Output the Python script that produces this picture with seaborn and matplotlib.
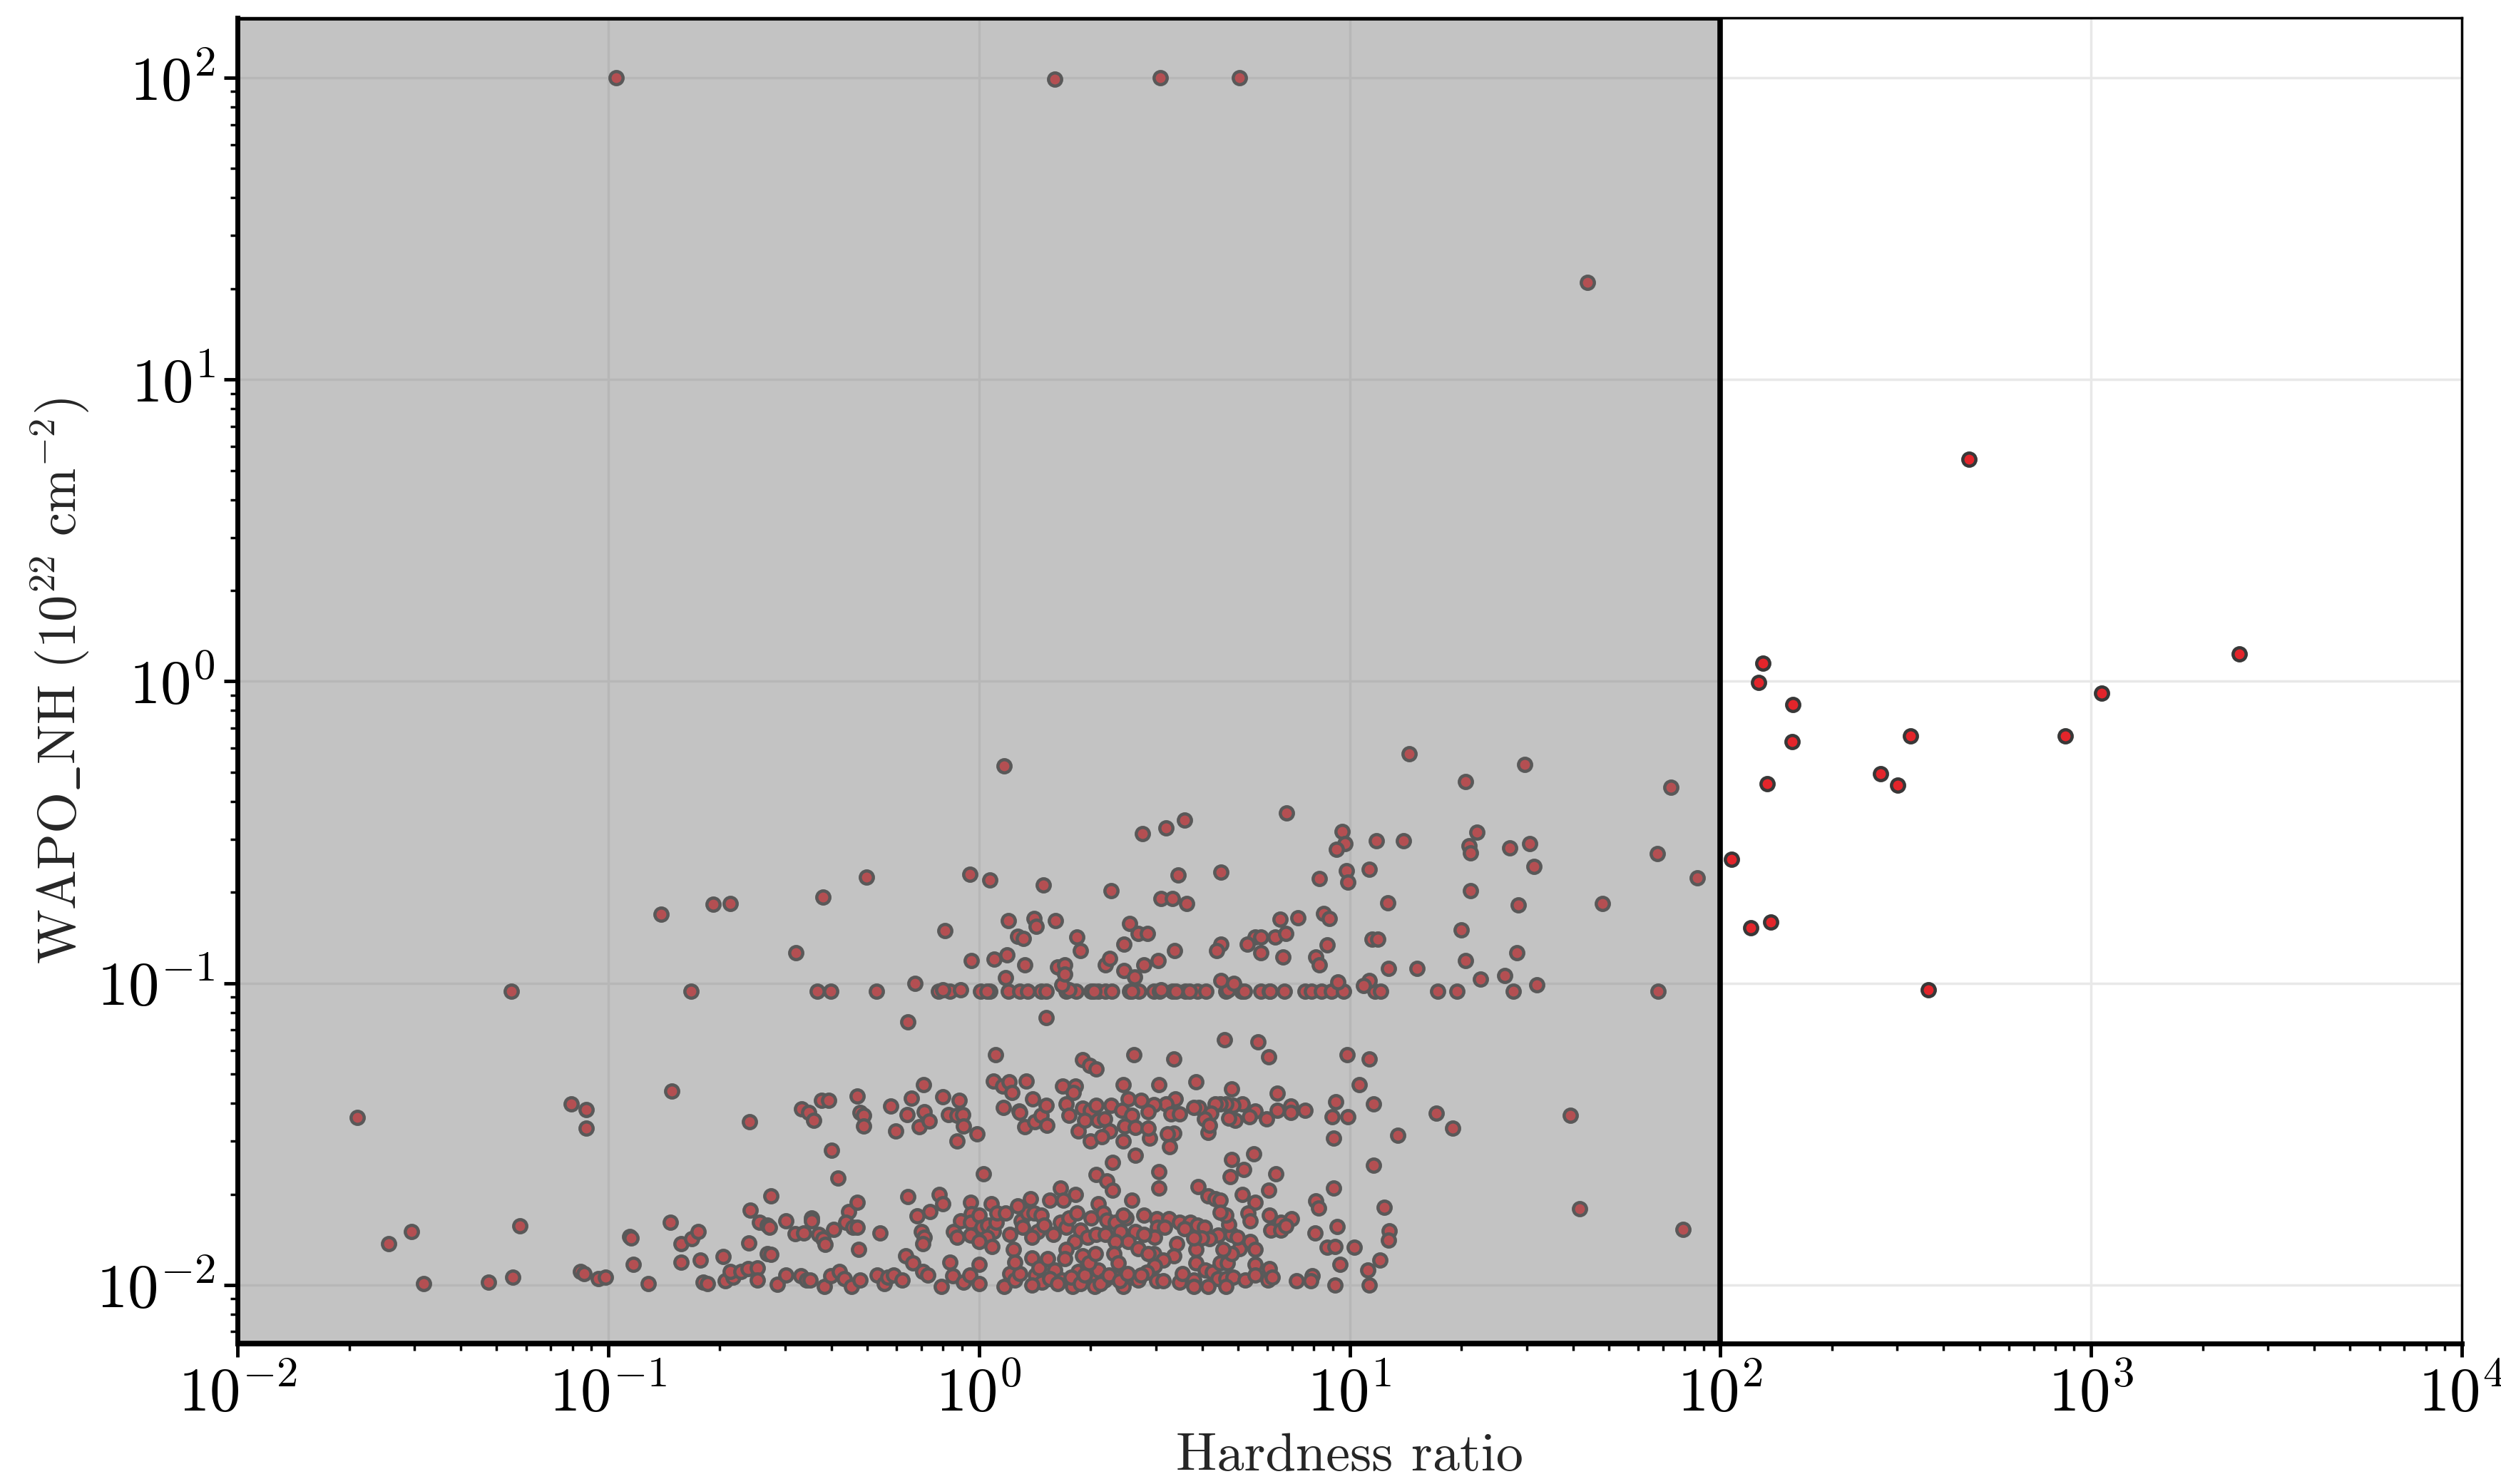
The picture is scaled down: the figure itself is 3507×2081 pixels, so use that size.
import numpy as np
import pandas as pd
import matplotlib
matplotlib.use("Agg")
import matplotlib.pyplot as plt
from matplotlib.ticker import LogLocator, NullFormatter
import seaborn as sns

# ---------------- data ----------------
# isolated outliers at the top
hr_top = [0.105, 1.6, 3.08, 5.05, 43.8]
nh_top = [100, 99, 100, 100, 21]

# sources with hardness ratio > 100 (unshaded area)
hr_hard = [469, 2512, 130, 127, 157, 156, 134, 326, 271, 301, 853, 1069, 107, 121, 137, 364]
nh_hard = [5.43, 1.23, 1.15, 0.99, 0.84, 0.63, 0.457, 0.66, 0.493, 0.452, 0.66, 0.914,
           0.257, 0.153, 0.159, 0.095]

# horizontal band near 0.094
hr_band1 = [0.0548, 0.167, 0.366, 0.399, 0.53, 0.776, 0.833, 0.891, 1.01, 1.07, 1.2, 1.29,
            1.35, 1.47, 1.52, 1.72, 1.83, 2.01, 2.10, 2.19, 2.28, 2.55, 2.70, 2.97, 3.07,
            3.32, 3.60, 3.89, 4.09, 4.63, 5.1, 5.75, 6.07, 6.66, 7.57, 7.88, 8.38, 8.92,
            9.62, 11.7, 12.1, 17.3, 19.5, 27.6, 67.9, 0.80, 1.05, 1.75, 2.04, 2.58, 3.1,
            3.4, 3.7, 4.7, 5.2, 6.1,
            0.673, 1.67, 4.49, 4.87, 9.3, 11.3, 10.9, 32.0, 1.18]
nh_band1 = [0.094, 0.094, 0.094, 0.094, 0.094, 0.094, 0.094, 0.095, 0.094, 0.094, 0.094, 0.094,
            0.094, 0.094, 0.094, 0.094, 0.094, 0.094, 0.094, 0.094, 0.094, 0.094, 0.094, 0.094, 0.094,
            0.094, 0.094, 0.094, 0.094, 0.094, 0.094, 0.094, 0.094, 0.094, 0.094, 0.094, 0.094, 0.094,
            0.094, 0.094, 0.094, 0.094, 0.094, 0.094, 0.094, 0.095, 0.094, 0.095, 0.094, 0.094, 0.095,
            0.094, 0.094, 0.095, 0.094, 0.094,
            0.100, 0.099, 0.102, 0.100, 0.101, 0.102, 0.098, 0.099, 0.104]

# scatter between 0.1 and 0.6
hr_upper = [0.139, 0.192, 0.213, 1.17, 2.76, 3.2, 3.58, 0.497, 0.943, 1.07, 1.49, 2.27, 3.45,
            3.10, 3.32, 3.63, 0.38, 0.321, 0.811, 1.20, 1.41, 1.43, 1.61, 1.27, 1.32, 1.84,
            1.88, 2.55, 2.69, 2.85, 2.46, 3.37, 0.955, 1.10, 1.19, 1.33, 1.63, 1.7, 1.7, 2.19,
            2.25, 2.46, 2.63, 2.78, 3.05,
            14.5, 29.6, 20.5, 73.5, 6.75, 9.53, 9.7, 9.2, 11.8, 13.96, 22.0, 21.0, 21.2, 27.0,
            30.6, 67.6, 86.7, 31.4, 4.49, 8.28, 9.8, 9.9, 11.3, 21.2, 12.65, 28.5, 48.1, 6.49,
            7.24, 8.5, 8.8, 5.57, 5.75, 6.29, 6.73, 5.3, 4.5, 4.37, 5.77, 6.6, 8.1, 8.3, 8.7,
            11.5, 11.9, 20.0, 28.3, 20.5, 12.7, 15.2, 22.5, 26.2]
nh_upper = [0.169, 0.183, 0.184, 0.524, 0.313, 0.327, 0.347, 0.225, 0.23, 0.22, 0.212, 0.202, 0.228,
            0.191, 0.191, 0.184, 0.193, 0.126, 0.149, 0.161, 0.164, 0.154, 0.161, 0.1426, 0.141, 0.142,
            0.128, 0.158, 0.146, 0.146, 0.135, 0.128, 0.119, 0.12, 0.124, 0.115, 0.113, 0.115, 0.107, 0.115,
            0.121, 0.110, 0.105, 0.115, 0.119,
            0.575, 0.53, 0.465, 0.445, 0.366, 0.318, 0.29, 0.277, 0.296, 0.297, 0.317, 0.286, 0.27, 0.28,
            0.29, 0.268, 0.223, 0.243, 0.233, 0.222, 0.236, 0.216, 0.238, 0.202, 0.185, 0.182, 0.184, 0.163,
            0.165, 0.17, 0.164, 0.1425, 0.1425, 0.1425, 0.146, 0.135, 0.135, 0.128, 0.126, 0.122, 0.122, 0.115, 0.134,
            0.14, 0.14, 0.15, 0.126, 0.119, 0.112, 0.112, 0.103, 0.106]

# sparse points between 0.05 and 0.08
hr_mid = [0.644, 1.52, 1.11, 1.90, 1.99, 2.07, 2.62, 3.36, 4.59, 5.65, 6.05, 9.85, 11.3]
nh_mid = [0.0745, 0.077, 0.058, 0.0559, 0.0535, 0.052, 0.058, 0.056, 0.065, 0.064, 0.057, 0.058, 0.056]

# soft sources (hardness ratio < 0.2), low column
hr_soft = [0.021, 0.0795, 0.0873, 0.0873, 0.1486, 0.0256, 0.0295, 0.0578, 0.0318, 0.0476, 0.0553,
           0.0843, 0.0860, 0.0942, 0.0984, 0.114, 0.115, 0.1166, 0.128, 0.147, 0.157, 0.168, 0.175,
           0.157, 0.177, 0.18, 0.185]
nh_soft = [0.0358, 0.0399, 0.0381, 0.033, 0.044, 0.0137, 0.015, 0.0157, 0.0101, 0.0102, 0.0106,
           0.0111, 0.0109, 0.0105, 0.0106, 0.0145, 0.0143, 0.0117, 0.0101, 0.0161, 0.0137, 0.0142, 0.015,
           0.0119, 0.0121, 0.0102, 0.0101]

# band near 0.037 (hardness 0.2 - 2.7)
hr_band2 = [0.240, 0.332, 0.348, 0.359, 0.376, 0.393, 0.469, 0.477, 0.488, 0.489, 0.579, 0.597, 0.641,
            0.658, 0.689, 0.710, 0.713, 0.735, 0.80, 0.828, 0.871, 0.883, 0.904, 0.908, 0.874, 0.99,
            1.094, 1.158, 1.205, 1.227, 1.342, 1.166, 1.282, 1.29, 1.396, 1.33, 1.413, 1.473, 1.517,
            1.528, 1.68, 1.82, 1.80, 1.72, 1.75, 1.85, 1.90, 2.0, 2.07, 1.93, 2.10, 2.18, 2.27, 2.25,
            2.45, 2.53, 2.43, 2.58, 2.47, 2.64, 2.0, 2.14, 2.45, 2.64, 2.29, 0.40, 0.416, 1.03, 2.07,
            2.21, 2.29, 1.66, 1.69, 1.82, 1.55]
nh_band2 = [0.0347, 0.0384, 0.0373, 0.0352, 0.0408, 0.0408, 0.0422, 0.0373, 0.0365, 0.0336, 0.0391, 0.0324, 0.0366,
            0.0416, 0.0335, 0.046, 0.0375, 0.035, 0.042, 0.0366, 0.0364, 0.0408, 0.0366, 0.0336, 0.030, 0.0317,
            0.0474, 0.0455, 0.047, 0.0434, 0.0474, 0.0387, 0.0377, 0.0372, 0.0413, 0.0334, 0.0348, 0.0365, 0.0394,
            0.0338, 0.0455, 0.0457, 0.0434, 0.0399, 0.0365, 0.0324, 0.0385, 0.0378, 0.0393, 0.0352, 0.0352, 0.0355, 0.0393, 0.0324,
            0.0462, 0.0413, 0.0378, 0.0365, 0.0336, 0.0333, 0.030, 0.031, 0.030, 0.0269, 0.0255, 0.028, 0.0226, 0.0234, 0.0232,
            0.0221, 0.0206, 0.0209, 0.0191, 0.0199, 0.0191]

# 0.012 - 0.02 cloud (hardness 0.2 - 2.7)
hr_cloud = [0.274, 0.242, 0.256, 0.268, 0.272, 0.239, 0.204, 0.268, 0.275, 0.301, 0.319, 0.337, 0.354,
            0.354, 0.37, 0.38, 0.385, 0.406, 0.446, 0.438, 0.457, 0.469, 0.469, 0.473, 0.540, 0.643,
            0.681, 0.738, 0.698, 0.713, 0.705, 0.78, 0.80, 0.635, 0.664, 0.834, 0.893, 0.948, 0.955,
            0.948, 0.855, 0.871, 0.948, 1.0, 1.02, 1.057, 1.094, 1.05, 1.077, 1.112, 1.12, 1.18, 1.0,
            1.084, 1.21, 1.24, 1.30, 1.35, 1.38, 1.41, 1.47, 1.44, 1.39, 1.31, 1.27, 1.50, 1.59, 1.66,
            1.72, 1.75, 1.84, 1.81, 1.88, 1.96, 2.01, 2.10, 2.16, 2.21, 2.33, 2.41, 2.49, 2.58, 2.64,
            2.53, 2.07, 2.19, 2.33, 2.45]
nh_cloud = [0.0197, 0.0177, 0.0161, 0.0158, 0.0155, 0.0138, 0.0124, 0.0127, 0.0126, 0.0163, 0.0148, 0.0149, 0.0167,
            0.0163, 0.0147, 0.0142, 0.0136, 0.0153, 0.0175, 0.0161, 0.0155, 0.0188, 0.0155, 0.0131, 0.0149, 0.0196,
            0.0169, 0.0175, 0.015, 0.0144, 0.0137, 0.0199, 0.0186, 0.0125, 0.0118, 0.0119, 0.0163, 0.0188, 0.0172,
            0.0161, 0.015, 0.0144, 0.0146, 0.017, 0.0155, 0.0158, 0.015, 0.0144, 0.0186, 0.0161, 0.0173, 0.0173, 0.0139,
            0.0134, 0.0147, 0.0131, 0.0163, 0.0173, 0.0193, 0.0173, 0.017, 0.015, 0.0144, 0.0155, 0.0183, 0.0158, 0.0147, 0.0161,
            0.0155, 0.0167, 0.0173, 0.0139, 0.0152, 0.0144, 0.0167, 0.0186, 0.0173, 0.0164, 0.0161, 0.015, 0.0167, 0.0191, 0.015,
            0.0139, 0.0147, 0.0147, 0.0139, 0.017]

# lowest band near 0.01 (hardness 0.2 - 2.7)
hr_floor = [0.207, 0.217, 0.213, 0.228, 0.238, 0.252, 0.252, 0.286, 0.301, 0.331, 0.342, 0.351, 0.382,
            0.399, 0.42, 0.434, 0.453, 0.477, 0.532, 0.555, 0.569, 0.589, 0.62, 0.705, 0.728, 0.793,
            0.849, 0.908, 0.946, 1.0, 1.0, 1.17, 1.21, 1.25, 1.29, 1.25, 1.39, 1.42, 1.48, 1.39, 1.60,
            1.67, 1.72, 1.70, 1.79, 1.85, 1.90, 1.96, 2.0, 2.05, 2.10, 2.18, 2.33, 2.31, 2.37, 2.45,
            2.58, 2.69, 2.69, 1.55, 1.63, 1.77, 1.88, 1.93, 2.13, 2.24, 2.4, 2.52, 1.45, 1.53, 1.98, 2.06]
nh_floor = [0.0103, 0.0106, 0.0111, 0.0111, 0.0113, 0.0114, 0.0104, 0.01005, 0.0108, 0.0107, 0.0104, 0.0104, 0.00986,
            0.0107, 0.0111, 0.0105, 0.0099, 0.0104, 0.0108, 0.0101, 0.0106, 0.0108, 0.0104, 0.0111, 0.0108, 0.0099,
            0.0107, 0.0102, 0.0108, 0.0101, 0.0117, 0.0099, 0.0109, 0.0104, 0.0109, 0.0119, 0.0123, 0.0108, 0.0102, 0.0100, 0.0112,
            0.0104, 0.0131, 0.0122, 0.0099, 0.0111, 0.0125, 0.0116, 0.0105, 0.0099, 0.0112, 0.0104, 0.0106, 0.0127, 0.0118, 0.0099,
            0.0106, 0.0104, 0.0132, 0.0105, 0.0101, 0.0106, 0.0101, 0.0108, 0.0101, 0.0108, 0.0103, 0.0109, 0.0114, 0.0122, 0.0118, 0.0127]

# hardness 2.7 - 100, column below 0.05
hr_right = [3.06, 3.85, 4.80, 6.38, 10.6, 9.18, 11.6, 17.1, 19.0, 13.5, 8.95, 9.9, 9.04, 7.57, 6.95,
            6.95, 6.38, 5.98, 5.57, 5.36, 5.14, 4.84, 4.64, 4.48, 4.34, 4.92, 4.72, 4.23, 4.15, 4.05,
            4.19, 3.92, 3.79, 3.39, 3.19, 3.30, 3.48, 3.36, 3.22, 3.27, 2.88, 2.86, 2.96, 2.86, 2.74,
            39.3, 41.7, 79.4,
            5.50, 4.80, 5.18, 4.76, 6.31, 3.06, 3.06, 9.04, 11.6, 3.90, 5.14, 6.04, 4.15, 4.34, 4.48,
            5.57, 5.31, 5.40, 6.08, 6.51, 6.97, 6.14, 6.51, 6.73, 8.11, 8.26, 12.4, 9.27, 8.05, 12.8,
            12.7, 8.69, 9.12, 10.3, 12.05, 9.42, 11.2, 6.08, 5.57,
            7.91, 7.85, 7.18, 9.12, 11.3, 6.03, 6.19,
            2.79, 3.01, 3.25, 3.48, 3.72, 3.88, 4.05, 3.03, 3.17, 2.98, 2.79, 3.42, 3.85, 3.36, 2.96,
            2.86, 3.14, 2.98, 2.84, 2.74, 3.01, 3.14, 3.48, 3.54, 3.79, 3.79, 3.85, 4.08, 4.26, 4.41,
            4.64, 4.15, 4.48, 4.68, 4.84, 5.22, 5.55, 4.64, 5.05, 4.80, 4.56, 5.40, 5.55, 4.80, 4.97,
            4.41, 4.19, 3.98, 3.79, 3.59, 4.72, 4.64, 4.48]
nh_right = [0.046, 0.0472, 0.0446, 0.0432, 0.046, 0.0404, 0.0399, 0.037, 0.0331, 0.0314, 0.0361, 0.0361, 0.0307, 0.0378, 0.0392,
            0.0373, 0.0378, 0.0356, 0.0376, 0.0361, 0.0399, 0.0393, 0.0399, 0.0399, 0.0399, 0.0352, 0.0357, 0.037, 0.032, 0.0355,
            0.0339, 0.0388, 0.0388, 0.0414, 0.0399, 0.0368, 0.0368, 0.0318, 0.0316, 0.0287, 0.0307, 0.033, 0.0395, 0.0375, 0.041,
            0.0364, 0.0179, 0.0153,
            0.0272, 0.026, 0.0241, 0.0229, 0.0234, 0.0238, 0.021, 0.021, 0.0249, 0.0212, 0.020, 0.0206, 0.0197, 0.0193, 0.0191,
            0.0188, 0.0173, 0.0163, 0.017, 0.0161, 0.0166, 0.0152, 0.0152, 0.0157, 0.019, 0.018, 0.0181, 0.0156, 0.0149, 0.0151,
            0.0141, 0.0133, 0.0134, 0.0133, 0.0121, 0.0117, 0.0112, 0.0113, 0.0117,
            0.0107, 0.0103, 0.0103, 0.0100, 0.0100, 0.0104, 0.0106,
            0.017, 0.0166, 0.0166, 0.0161, 0.0161, 0.0158, 0.0155, 0.0155, 0.0155, 0.0144, 0.0147, 0.0137, 0.0131, 0.0125, 0.0127,
            0.0127, 0.0121, 0.0116, 0.0110, 0.0108, 0.0103, 0.0103, 0.0102, 0.0109, 0.0104, 0.0099, 0.0118, 0.0112, 0.0110, 0.0105,
            0.0105, 0.0099, 0.0118, 0.0118, 0.0106, 0.0104, 0.0108, 0.0099, 0.0132, 0.0127, 0.0131, 0.0139, 0.0131, 0.0147, 0.0144,
            0.0146, 0.0142, 0.0143, 0.0143, 0.0154, 0.0159, 0.017, 0.0174]

x_ticks = [1e-2, 1e-1, 1e0, 1e1, 1e2, 1e3, 1e4]
shade_limits = (1e-2, 1e2)

groups = [(hr_top, nh_top), (hr_hard, nh_hard), (hr_band1, nh_band1), (hr_upper, nh_upper),
          (hr_mid, nh_mid), (hr_soft, nh_soft), (hr_band2, nh_band2), (hr_cloud, nh_cloud),
          (hr_floor, nh_floor), (hr_right, nh_right)]
for gx, gy in groups:
    assert len(gx) == len(gy), (len(gx), len(gy))
df = pd.DataFrame({
    "hr": np.concatenate([g[0] for g in groups]),
    "nh": np.concatenate([g[1] for g in groups]),
})

# ---------------- style ----------------
sns.set_theme(style="white")
plt.rcParams["font.family"] = ["cmr10", "DejaVu Serif"]
plt.rcParams["mathtext.fontset"] = "cm"
plt.rcParams["axes.formatter.use_mathtext"] = True
plt.rcParams["axes.unicode_minus"] = False

fig, ax = plt.subplots(figsize=(14.028, 8.324), dpi=250)
fig.subplots_adjust(left=0.095, right=0.9843, bottom=0.0947, top=0.988)

sns.scatterplot(data=df, x="hr", y="nh", ax=ax, color="#e3252b", edgecolor="#383838",
                linewidth=1.3, s=28, zorder=3, legend=False)

ax.set_xscale("log")
ax.set_yscale("log")
ax.set_xlim(1e-2, 1e4)
ax.set_ylim(0.0064, 158)
ax.set_xticks(x_ticks)

ax.axvspan(shade_limits[0], shade_limits[1], ymin=0, ymax=1,
           facecolor=(0.5, 0.5, 0.5, 0.47), edgecolor="black", linewidth=2.2, zorder=4)

ax.grid(True, which="major", color="#e8e8e8", linewidth=1.0)
ax.set_axisbelow(True)

for side in ["left", "bottom"]:
    ax.spines[side].set_linewidth(2.0)
    ax.spines[side].set_color("black")
for side in ["top", "right"]:
    ax.spines[side].set_linewidth(1.0)
    ax.spines[side].set_color("black")

ax.xaxis.set_minor_locator(LogLocator(base=10, subs=np.arange(2, 10), numticks=100))
ax.yaxis.set_minor_locator(LogLocator(base=10, subs=np.arange(2, 10), numticks=100))
ax.xaxis.set_minor_formatter(NullFormatter())
ax.yaxis.set_minor_formatter(NullFormatter())

ax.tick_params(which="major", direction="out", length=5.5, width=1.4, labelsize=25,
               bottom=True, left=True, top=False, right=False, colors="black")
ax.tick_params(which="minor", direction="out", length=3, width=1.0,
               bottom=True, left=True, top=False, right=False, colors="black")

ax.set_xlabel("Hardness ratio", fontsize=22, labelpad=4)
ax.set_ylabel(r"$\mathrm{WAPO\_NH}\ (10^{22}\ \mathrm{cm}^{-2})$", fontsize=21.5, labelpad=2)

fig.savefig("out.png", dpi=250)
